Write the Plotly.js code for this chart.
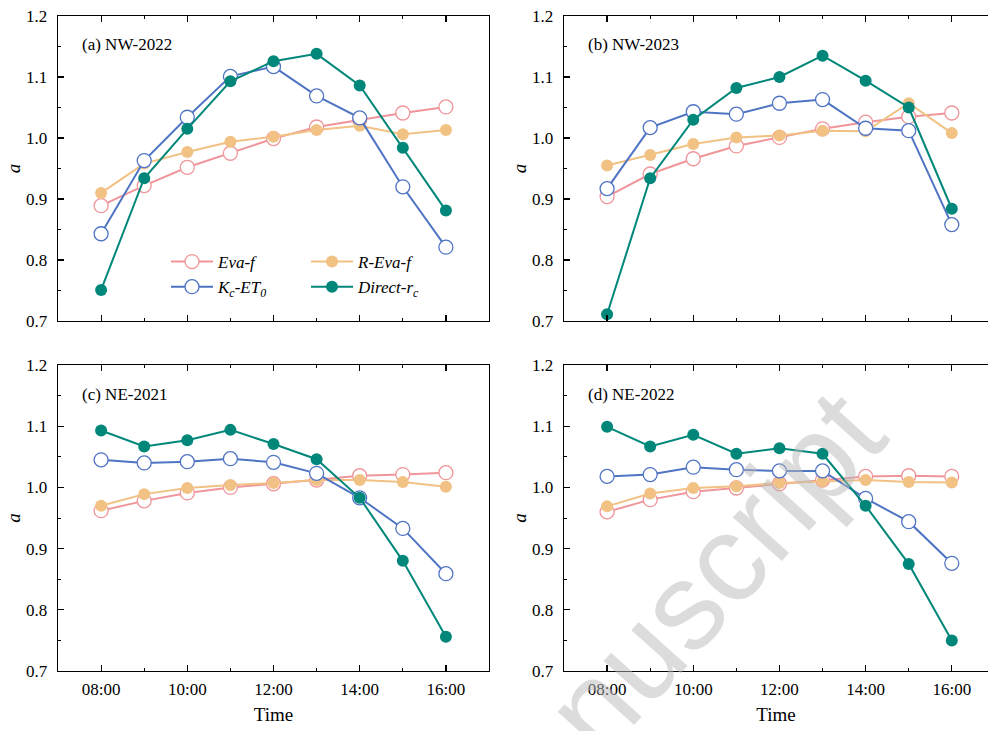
<!DOCTYPE html>
<html>
<head>
<meta charset="utf-8">
<script src="https://cdn.plot.ly/plotly-3.0.1.min.js"></script>
<style>html,body{margin:0;padding:0;background:#fff;}#chart{width:988px;height:731px;}</style>
</head>
<body>
<div id="chart"></div>
<script>
// ---- data ----
const hours = [8, 9, 10, 11, 12, 13, 14, 15, 16];
const tickHours = [8, 10, 12, 14, 16];
const tickLabels = ["08:00", "10:00", "12:00", "14:00", "16:00"];
const panelTitles = ["(a) NW-2022", "(b) NW-2023", "(c) NE-2021", "(d) NE-2022"];
const seriesNames = ["<i>Eva-f</i>", "<i>R-Eva-f</i>", "<i>K<sub>c</sub>-ET<sub>0</sub></i>", "<i>Direct-r<sub>c</sub></i>"];

// (a) NW-2022
const evaF_a   = [0.889, 0.922, 0.952, 0.975, 0.999, 1.018, 1.030, 1.041, 1.051];
const rEvaF_a  = [0.910, 0.958, 0.977, 0.994, 1.002, 1.013, 1.020, 1.006, 1.013];
const kcEt0_a  = [0.843, 0.963, 1.034, 1.101, 1.117, 1.069, 1.033, 0.920, 0.821];
const direct_a = [0.751, 0.934, 1.015, 1.093, 1.126, 1.138, 1.086, 0.984, 0.881];
// (b) NW-2023
const evaF_b   = [0.904, 0.941, 0.966, 0.987, 1.001, 1.015, 1.026, 1.035, 1.041];
const rEvaF_b  = [0.955, 0.972, 0.990, 1.001, 1.004, 1.012, 1.011, 1.057, 1.008];
const kcEt0_b  = [0.917, 1.017, 1.043, 1.039, 1.057, 1.063, 1.016, 1.012, 0.858];
const direct_b = [0.711, 0.934, 1.030, 1.082, 1.100, 1.135, 1.094, 1.050, 0.884];
// (c) NE-2021
const evaF_c   = [0.962, 0.978, 0.991, 1.000, 1.006, 1.012, 1.019, 1.021, 1.024];
const rEvaF_c  = [0.970, 0.989, 0.999, 1.004, 1.007, 1.012, 1.012, 1.009, 1.001];
const kcEt0_c  = [1.045, 1.040, 1.042, 1.047, 1.041, 1.023, 0.983, 0.933, 0.859];
const direct_c = [1.093, 1.067, 1.077, 1.094, 1.071, 1.046, 0.983, 0.880, 0.756];
// (d) NE-2022
const evaF_d   = [0.960, 0.980, 0.993, 0.999, 1.006, 1.012, 1.018, 1.019, 1.018];
const rEvaF_d  = [0.969, 0.990, 0.999, 1.002, 1.007, 1.010, 1.012, 1.009, 1.008];
const kcEt0_d  = [1.018, 1.021, 1.033, 1.029, 1.027, 1.027, 0.982, 0.944, 0.876];
const direct_d = [1.099, 1.067, 1.086, 1.055, 1.064, 1.055, 0.970, 0.875, 0.750];

const panels = [
  [evaF_a, rEvaF_a, kcEt0_a, direct_a],
  [evaF_b, rEvaF_b, kcEt0_b, direct_b],
  [evaF_c, rEvaF_c, kcEt0_c, direct_c],
  [evaF_d, rEvaF_d, kcEt0_d, direct_d]
];

// ---- styles ----
const colors = ["#f0959a", "#f1c284", "#4f74c4", "#00877a"];
const openSym = [true, false, true, false];
const drawOrder = [0, 1, 2, 3];

const W = 988, H = 731;
const xDom = [[58 / W, 489 / W], [564 / W, 1.0], [58 / W, 489 / W], [564 / W, 1.0]];
const yDom = [[(H - 321) / H, (H - 16) / H], [(H - 321) / H, (H - 16) / H],
              [(H - 671) / H, (H - 365) / H], [(H - 671) / H, (H - 365) / H]];
const xRange = [[7, 17], [7, 16.84], [7, 17], [7, 16.84]];

const font = "'Liberation Serif', 'Times New Roman', serif";
const traces = [];
const layout = {
  width: W, height: H,
  margin: {l: 0, r: 0, t: 0, b: 0},
  paper_bgcolor: "#fff", plot_bgcolor: "#fff",
  font: {family: font, color: "#000", size: 17},
  showlegend: true,
  annotations: [],
  legend: {
    x: 166 / W, y: 1 - 244 / H, xanchor: "left", yanchor: "top",
    bgcolor: "rgba(0,0,0,0)", font: {family: font, size: 17},
    tracegroupgap: 0, itemwidth: 42
  },
  legend2: {
    x: 306 / W, y: 1 - 244 / H, xanchor: "left", yanchor: "top",
    bgcolor: "rgba(0,0,0,0)", font: {family: font, size: 17},
    tracegroupgap: 0, itemwidth: 42
  }
};

for (let p = 0; p < 4; p++) {
  const sfx = p === 0 ? "" : String(p + 1);
  const xa = "x" + sfx, ya = "y" + sfx;
  for (const s of drawOrder) {
    const isOpen = openSym[s];
    traces.push({
      type: "scatter", mode: "lines+markers",
      x: hours, y: panels[p][s],
      xaxis: xa, yaxis: ya,
      name: seriesNames[s],
      legend: (s === 0 || s === 2) ? "legend" : "legend2",
      showlegend: p === 0,
      line: {color: colors[s], width: 2},
      marker: isOpen
        ? {symbol: "circle", size: 14, color: "#fff", line: {color: colors[s], width: 1.3}}
        : {symbol: "circle", size: 12, color: colors[s], line: {color: colors[s], width: 0}},
      cliponaxis: false
    });
  }
  const left = (p % 2 === 0);
  const bottom = (p >= 2);
  layout["xaxis" + sfx] = {
    domain: xDom[p], anchor: ya, range: xRange[p],
    tickmode: "array", tickvals: tickHours, ticktext: tickLabels,
    ticks: "inside", ticklen: 6, tickwidth: 1.2, tickcolor: "#000",
    minor: {tickmode: "array", tickvals: [9, 11, 13, 15], ticks: "inside", ticklen: 3, tickwidth: 1, tickcolor: "#000"},
    showline: true, linecolor: "#000", linewidth: 1.3, mirror: "ticks",
    showgrid: false, zeroline: false,
    showticklabels: bottom,
    tickfont: {family: font, size: 17},
    ticklabelstandoff: 2,
    title: bottom ? {text: "Time", font: {family: font, size: 19}, standoff: 10} : {text: ""}
  };
  layout["yaxis" + sfx] = {
    domain: yDom[p], anchor: xa, range: [0.7, 1.2],
    tickmode: "linear", tick0: 0.7, dtick: 0.1, tickformat: ".1f",
    ticks: "inside", ticklen: 6, tickwidth: 1.2, tickcolor: "#000",
    minor: {tick0: 0.75, dtick: 0.1, ticks: "inside", ticklen: 3, tickwidth: 1, tickcolor: "#000"},
    showline: true, linecolor: "#000", linewidth: 1.3, mirror: left ? true : false,
    showgrid: false, zeroline: false,
    tickfont: {family: font, size: 17},
    ticklabelstandoff: 6,
    title: {text: "<i>a</i>", font: {family: font, size: 19}, standoff: 0}
  };
  layout.annotations.push({
    xref: xa + " domain", yref: ya + " domain",
    x: 0.052, y: 0.905,
    xanchor: "left", yanchor: "middle", showarrow: false,
    text: panelTitles[p], font: {family: font, size: 17, color: "#000"}
  });
}

// watermark
layout.annotations.push({
  xref: "paper", yref: "paper", x: 714 / W, y: 1 - 572 / H,
  xanchor: "center", yanchor: "middle", showarrow: false,
  text: "nuscript", textangle: -48,
  font: {family: "'Liberation Sans', Arial, sans-serif", size: 124, color: "rgba(185,185,185,0.5)"}
});

Plotly.newPlot("chart", traces, layout, {displayModeBar: false, staticPlot: true});
</script>
</body>
</html>
